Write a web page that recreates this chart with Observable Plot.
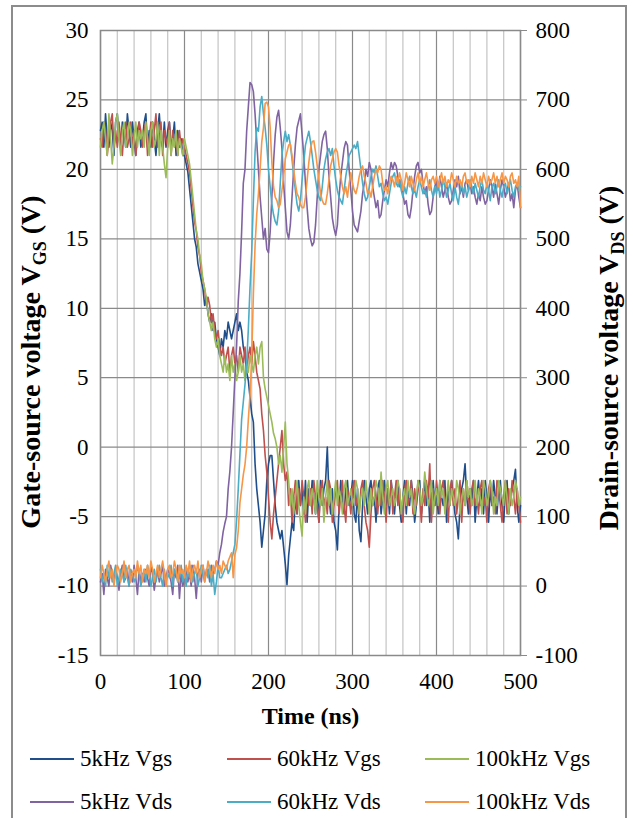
<!DOCTYPE html>
<html><head><meta charset="utf-8">
<script src="https://cdn.jsdelivr.net/npm/d3@7"></script>
<script src="https://cdn.jsdelivr.net/npm/@observablehq/plot@0.6"></script>
<style>
body{margin:0;background:#fff;}
#wrap{position:relative;width:633px;height:818px;overflow:hidden;font-family:"Liberation Serif","Times New Roman",serif;color:#000;}
#border{position:absolute;left:11px;top:5px;width:616px;height:900px;border:2px solid #8c8c8c;box-sizing:border-box;}
#chart{position:absolute;left:0;top:0;}
#legend{position:absolute;left:0;top:737px;width:633px;}
.row{height:43px;position:relative;}
.item{position:absolute;top:0;height:43px;display:flex;align-items:center;font-size:23px;white-space:nowrap;}
.swatch{width:44px;height:2px;margin-right:6px;}
#chart svg g[aria-label="x-axis label"] text{font-weight:bold;font-size:24px;}
</style></head>
<body><div id="wrap"><div id="border"></div><div id="chart"></div><div id="legend"></div></div>
<script>
// ---- data ----
const timeNs = [
0,2,4,6,8,10,12,14,16,18,20,22,24,26,28,30,32,34,36,38,40,42,44,46,48,
50,52,54,56,58,60,62,64,66,68,70,72,74,76,78,80,82,84,86,88,90,92,94,96,98,
100,102,104,106,108,110,112,114,116,118,120,122,124,126,128,130,132,134,136,138,140,142,144,146,148,
150,152,154,156,158,160,162,164,166,168,170,172,174,176,178,180,182,184,186,188,190,192,194,196,198,
200,202,204,206,208,210,212,214,216,218,220,222,224,226,228,230,232,234,236,238,240,242,244,246,248,
250,252,254,256,258,260,262,264,266,268,270,272,274,276,278,280,282,284,286,288,290,292,294,296,298,
300,302,304,306,308,310,312,314,316,318,320,322,324,326,328,330,332,334,336,338,340,342,344,346,348,
350,352,354,356,358,360,362,364,366,368,370,372,374,376,378,380,382,384,386,388,390,392,394,396,398,
400,402,404,406,408,410,412,414,416,418,420,422,424,426,428,430,432,434,436,438,440,442,444,446,448,
450,452,454,456,458,460,462,464,466,468,470,472,474,476,478,480,482,484,486,488,490,492,494,496,498,
500];

// Gate-source voltages (V)
const vgs5kHz = [
22.8,23.4,21.6,24.0,22.2,21.6,23.4,22.8,21.0,23.4,24.0,22.2,21.6,23.4,22.8,21.6,24.0,22.8,21.6,23.4,22.2,21.0,22.8,23.4,21.6,
22.2,23.4,24.0,21.6,22.8,21.6,23.4,22.2,21.0,22.8,24.0,22.2,21.6,23.4,21.6,22.8,23.4,21.6,22.2,23.4,21.0,22.8,21.6,22.2,21.0,
21.0,20.4,19.8,18.6,17.4,16.2,15.0,14.4,13.2,12.6,12.0,11.4,10.2,10.8,9.6,9.0,9.6,8.4,9.0,7.8,7.2,6.6,7.8,7.2,8.4,
7.8,9.0,8.4,7.8,8.4,9.0,9.6,8.4,9.0,8.4,7.2,6.6,5.4,4.8,3.6,2.4,1.8,-1.2,-3.0,-4.2,-5.4,-7.2,-6.0,-4.8,-2.4,
-1.2,-0.6,-0.6,-2.4,-4.2,-5.4,-6.0,-6.6,-6.0,-7.2,-8.4,-9.9,-7.8,-6.6,-5.4,-6.0,-3.6,-4.8,-2.4,-4.2,-3.0,-4.8,-2.4,-5.4,-3.0,
-4.2,-2.4,-3.6,-4.8,-3.0,-5.4,-2.4,-4.2,-3.0,-2.4,0.0,-3.6,-4.8,-3.0,-5.4,-6.0,-7.4,-4.2,-2.4,-3.6,-4.8,-3.0,-2.4,-4.2,-3.6,
-2.4,-4.8,-5.4,-3.0,-6.0,-6.8,-4.2,-2.4,-3.6,-4.8,-3.0,-2.4,-4.2,-3.6,-5.4,-3.0,-2.4,-4.8,-3.6,-2.4,-4.2,-3.0,-4.8,-2.4,-3.6,
-4.8,-3.0,-2.4,-4.2,-5.4,-3.6,-2.4,-4.8,-3.0,-4.2,-2.4,-3.6,-5.4,-4.2,-3.0,-2.4,-4.8,-3.6,-2.4,-4.2,-3.0,-5.4,-3.6,-2.4,-4.2,
-3.0,-4.8,-2.4,-3.6,-4.2,-2.4,-5.4,-3.0,-4.2,-2.4,-3.6,-4.8,-5.4,-6.6,-4.2,-3.0,-2.4,-1.2,-3.6,-4.8,-3.0,-4.2,-2.4,-5.4,-3.6,
-2.4,-4.2,-3.0,-4.8,-2.4,-3.6,-5.4,-3.0,-4.2,-2.4,-3.6,-4.8,-3.0,-2.4,-4.2,-5.4,-3.0,-2.4,-4.8,-3.6,-3.0,-2.4,-1.6,-4.2,-5.4,
-4.2];
const vgs60kHz = [
22.2,21.6,23.4,22.8,21.0,22.2,23.4,24.0,21.6,22.8,21.6,23.4,22.2,21.0,22.8,23.4,21.6,22.2,23.4,21.6,22.8,21.0,22.2,23.4,22.8,
21.6,22.8,23.4,21.0,22.2,23.4,21.6,22.8,24.0,21.6,22.2,23.4,21.0,22.8,22.2,21.6,23.4,21.0,22.8,21.6,22.2,21.0,22.8,21.6,22.2,
21.6,21.0,20.4,19.8,18.6,17.4,16.2,15.6,14.4,13.8,12.6,12.0,11.4,10.2,10.8,10.2,9.0,9.6,8.4,7.8,8.4,7.2,6.6,7.2,6.0,
6.6,7.2,5.4,6.6,7.2,6.0,6.6,5.4,7.2,6.6,6.0,7.2,5.4,6.6,7.2,6.0,7.6,6.6,5.4,4.8,4.2,2.4,1.2,-0.6,-1.8,
-3.6,-5.4,-6.6,-4.8,-3.6,-2.4,-1.2,0.0,1.2,-1.2,-2.4,-1.8,-4.2,-3.0,-5.4,-3.6,-2.4,-4.8,-3.0,-4.2,-2.4,-3.6,-5.4,-3.0,-4.2,
-3.0,-4.8,-2.4,-3.6,-4.2,-5.4,-3.0,-2.4,-4.2,-3.6,-4.8,-2.4,-3.0,-5.4,-4.2,-3.0,-2.4,-4.8,-3.6,-2.4,-4.2,-5.4,-3.0,-3.6,-4.8,
-3.0,-2.4,-4.2,-3.6,-4.8,-3.0,-2.4,-4.2,-5.4,-6.0,-7.2,-4.8,-3.0,-2.4,-3.6,-4.8,-3.0,-4.2,-2.4,-3.6,-5.4,-3.0,-4.2,-2.4,-4.8,
-3.6,-2.4,-4.2,-3.0,-4.8,-5.4,-3.0,-2.4,-4.2,-3.6,-2.4,-4.8,-3.0,-4.2,-2.4,-3.6,-5.4,-3.0,-4.2,-2.4,-3.6,-1.2,-5.4,-3.0,-4.2,
-2.4,-3.6,-4.8,-3.0,-2.4,-4.2,-3.6,-5.4,-3.0,-2.4,-4.2,-3.0,-4.8,-3.6,-2.4,-5.4,-3.0,-4.2,-2.4,-3.6,-4.8,-3.0,-2.4,-4.2,-3.6,
-4.8,-3.0,-2.4,-4.2,-3.6,-5.4,-3.0,-2.4,-4.2,-3.6,-4.8,-2.4,-3.0,-4.2,-5.4,-3.6,-2.4,-4.8,-3.0,-4.2,-2.4,-3.6,-4.8,-3.0,-4.2,
-5.4];
const vgs100kHz = [
21.6,22.8,23.4,22.2,21.0,24.0,22.2,20.4,21.6,23.4,24.0,22.2,21.0,22.8,23.4,21.6,22.2,23.4,22.8,21.0,22.2,23.4,21.6,22.8,22.2,
22.8,21.6,23.4,22.2,21.0,22.8,23.4,21.6,22.2,23.4,21.0,22.8,21.6,20.4,19.4,21.6,22.8,21.0,22.2,21.6,22.8,21.0,22.2,21.6,21.0,
22.2,21.6,21.0,20.4,19.2,18.0,16.8,15.6,15.0,13.8,13.2,12.0,11.4,10.8,9.6,9.0,8.4,9.0,7.8,7.2,7.8,6.6,6.0,5.4,6.6,
5.4,6.0,4.8,6.6,5.4,6.0,4.8,5.4,6.6,5.4,6.0,4.8,6.0,5.4,6.6,6.0,5.4,6.6,7.2,6.0,7.2,7.6,5.0,4.2,3.6,
3.0,2.4,1.8,1.0,0.6,0.0,-1.2,-0.6,-1.8,0.0,1.8,-1.2,-2.4,-4.2,-3.0,-4.8,-3.6,-2.4,-4.2,-5.4,-6.4,-3.6,-4.8,-3.0,-2.4,
-4.2,-3.0,-3.6,-4.8,-2.4,-3.6,-4.2,-3.0,-5.4,-3.6,-2.4,-4.2,-3.0,-4.8,-3.6,-2.4,-4.2,-3.0,-3.6,-4.8,-3.0,-2.4,-4.2,-3.6,-3.0,
-4.2,-3.6,-2.4,-3.0,-4.8,-3.6,-3.0,-4.2,-2.4,-3.6,-4.8,-3.0,-4.2,-3.6,-2.4,-3.0,-4.2,-1.8,-3.6,-4.8,-3.0,-2.4,-4.2,-3.6,-3.0,
-4.2,-3.6,-2.4,-3.0,-4.8,-3.6,-3.0,-4.2,-2.4,-3.6,-3.0,-4.2,-4.8,-3.6,-2.4,-3.0,-4.2,-3.6,-1.8,-3.0,-4.2,-3.6,-2.4,-4.8,-3.6,
-3.0,-4.2,-2.4,-3.6,-3.0,-4.8,-3.6,-2.4,-4.2,-3.0,-3.6,-4.2,-2.4,-3.0,-4.8,-3.6,-3.0,-4.2,-2.4,-3.6,-3.0,-4.2,-3.6,-2.4,-4.2,
-3.0,-3.6,-4.8,-2.4,-3.0,-4.2,-3.6,-2.4,-3.0,-4.8,-3.6,-4.2,-2.4,-3.0,-3.6,-4.2,-2.4,-3.6,-4.8,-3.0,-4.2,-3.6,-2.4,-3.0,-4.2,
-3.6];

// Drain-source voltages (V)
const vds5kHz = [
6,18,-12,24,12,0,30,18,6,24,12,-6,18,30,6,12,24,0,18,6,30,12,-12,24,6,
18,6,24,12,0,30,18,-6,12,24,6,18,30,0,12,24,18,6,-12,24,12,30,-18,18,0,
12,24,6,18,0,30,12,-18,18,24,6,30,12,18,24,6,30,18,24,36,30,48,60,78,90,
100,140,165,200,250,300,345,410,450,510,580,600,655,690,725,722,712,680,640,600,560,530,500,515,485,
480,510,560,610,650,675,685,660,630,580,545,510,500,520,560,600,635,660,670,680,650,620,580,545,515,
500,490,495,520,560,600,620,640,650,655,630,590,560,530,515,505,520,560,590,610,630,640,635,600,570,
540,520,515,510,525,540,565,580,600,590,610,600,575,560,545,555,530,535,555,570,585,575,595,610,600,
610,605,590,575,585,565,550,555,535,530,545,570,590,605,610,595,600,580,565,575,550,535,540,560,575,
585,570,590,575,560,570,580,560,550,555,570,585,575,590,565,575,560,580,585,570,580,565,575,560,550,
565,555,575,560,550,555,570,585,575,560,580,565,550,570,585,575,560,570,580,555,565,545,570,580,560,
545];
const vds60kHz = [
24,6,18,0,30,12,24,6,18,30,0,12,24,18,6,30,12,0,24,18,6,12,30,18,0,
12,24,6,30,18,0,12,24,6,18,30,12,0,24,6,18,12,30,0,24,18,6,12,30,6,
18,0,24,12,30,6,18,24,0,12,30,18,6,24,12,30,0,18,-12,6,30,12,12,18,24,
30,18,24,36,48,60,95,140,190,240,265,290,320,370,430,480,555,625,660,655,690,705,680,660,635,
600,575,550,535,525,520,540,580,620,640,655,640,650,635,615,590,570,550,540,555,585,610,635,645,655,
640,620,600,585,570,560,555,575,600,615,625,630,620,630,605,585,570,560,555,550,570,590,605,620,625,
630,635,630,640,620,600,580,565,555,560,575,590,600,595,605,590,575,580,565,555,560,550,565,580,590,
595,580,575,585,570,560,575,565,580,590,575,565,570,560,575,585,575,565,570,560,575,585,570,560,575,
565,580,560,570,585,575,560,570,580,565,555,575,560,550,570,580,565,575,560,570,585,575,565,580,570,
560,575,585,570,565,580,570,555,575,580,565,575,585,570,560,575,580,565,575,585,570,560,575,580,570,
575];
const vds100kHz = [
12,30,18,6,24,36,12,24,0,18,30,24,6,18,36,12,24,30,6,18,24,12,36,18,30,
6,24,18,30,12,36,24,6,18,30,12,24,36,18,0,24,30,12,18,36,24,6,30,18,24,
12,30,18,36,6,24,30,18,36,12,24,30,6,18,36,24,12,30,18,36,24,30,18,36,30,
24,36,42,48,12,45,55,80,120,140,160,175,200,240,275,330,420,490,535,565,600,640,660,695,697,
690,660,610,575,560,555,545,550,570,590,615,625,635,637,620,600,580,565,560,550,545,545,560,585,610,
630,640,641,625,605,585,565,555,550,550,565,585,605,615,625,630,625,605,590,575,565,575,560,580,595,
580,570,565,575,590,600,605,590,580,565,570,560,575,590,600,595,605,600,580,570,575,565,580,590,585,
575,590,580,595,585,570,580,595,585,575,590,580,570,585,595,580,590,575,585,595,580,570,585,590,580,
590,575,585,595,580,590,575,585,580,595,585,575,590,580,585,575,590,595,580,585,575,590,580,595,585,
575,590,580,595,585,575,590,580,585,595,580,590,575,585,595,580,590,585,575,590,595,580,585,575,590,
545];

const seriesNames = ["5kHz Vgs","60kHz Vgs","100kHz Vgs","5kHz Vds","60kHz Vds","100kHz Vds"];
const seriesColors = ["#1F4E8A","#C0504D","#9BBB59","#8064A2","#4BACC6","#F79646"];
const xTicks = [0,100,200,300,400,500];
const xMinorTicks = [20,40,60,80,120,140,160,180,220,240,260,280,320,340,360,380,420,440,460,480];
const vgsTicks = [-15,-10,-5,0,5,10,15,20,25,30];
const vdsTicks = [-100,0,100,200,300,400,500,600,700,800];

// ---- build table: Vds is mapped onto the Vgs (left) scale: Vds 0 <-> Vgs -10, 20 V per V ----
const vdsToVgs = v => v / 20 - 10;
const seriesValues = [vgs5kHz, vgs60kHz, vgs100kHz, vds5kHz, vds60kHz, vds100kHz];
const table = [];
seriesValues.forEach((vals, k) => {
  const isVds = k >= 3;
  const n = Math.min(vals.length, timeNs.length);
  for (let i = 0; i < n; i++) {
    table.push({series: seriesNames[k], t: timeNs[i], y: isVds ? vdsToVgs(vals[i]) : vals[i]});
  }
});

const font = "'Liberation Serif','Times New Roman',serif";
const chart = Plot.plot({
  width: 633, height: 740,
  marginLeft: 100, marginRight: 113, marginTop: 30, marginBottom: 85,
  style: {fontFamily: font, fontSize: "23px", color: "#000", background: "transparent", overflow: "visible"},
  x: {domain: [0, 500]},
  y: {domain: [-15, 30]},
  color: {domain: seriesNames, range: seriesColors},
  marks: [
    Plot.gridX(xMinorTicks, {stroke: "#c4c4c4", strokeOpacity: 1, strokeWidth: 1.2}),
    Plot.gridX(xTicks, {stroke: "#8a8a8a", strokeOpacity: 1, strokeWidth: 1.2}),
    Plot.gridY(vgsTicks, {stroke: "#8a8a8a", strokeOpacity: 1, strokeWidth: 1.2}),
    Plot.frame({stroke: "#8a8a8a", strokeWidth: 1.5}),
    Plot.axisX(xTicks, {tickSize: 0, tickPadding: 17, tickFormat: d => String(d), label: "Time (ns)", labelAnchor: "center", labelArrow: "none", labelOffset: 68}),
    Plot.axisY(vgsTicks, {anchor: "left", tickSize: 0, tickPadding: 12, tickFormat: d => String(d), label: null}),
    Plot.axisY(vdsTicks.map(vdsToVgs), {anchor: "right", tickSize: 6, tickPadding: 9, stroke: "#8a8a8a", tickFormat: (d, i) => String(vdsTicks[i]), label: null}),
    Plot.line(table, {x: "t", y: "y", z: "series", stroke: "series", strokeWidth: 1.6, strokeLinejoin: "round"})
  ]
});
document.getElementById("chart").appendChild(chart);

// rotated axis titles with subscripts
const svg = d3.select(chart);
function addTitle(x, y, main, sub) {
  const t = svg.append("text")
    .attr("transform", `translate(${x},${y}) rotate(-90)`)
    .attr("text-anchor", "middle")
    .attr("font-weight", "bold")
    .attr("font-size", 28)
    .attr("font-family", font)
    .attr("fill", "#000");
  t.append("tspan").text(main);
  t.append("tspan").attr("font-size", 18).attr("dy", 6).text(sub);
  t.append("tspan").attr("dy", -6).text(" (V)");
}
addTitle(40, 362, "Gate-source voltage V", "GS");
addTitle(618, 358, "Drain-source voltage V", "DS");

// legend (HTML, below the SVG)
const legend = document.getElementById("legend");
const colLeft = [30, 227, 425];
[[0, 1, 2], [3, 4, 5]].forEach(rowIdx => {
  const row = document.createElement("div");
  row.className = "row";
  rowIdx.forEach((k, c) => {
    const item = document.createElement("div");
    item.className = "item";
    item.style.left = colLeft[c] + "px";
    const sw = document.createElement("div");
    sw.className = "swatch";
    sw.style.background = seriesColors[k];
    const label = document.createElement("span");
    label.textContent = seriesNames[k];
    item.appendChild(sw);
    item.appendChild(label);
    row.appendChild(item);
  });
  legend.appendChild(row);
});
</script></body></html>
